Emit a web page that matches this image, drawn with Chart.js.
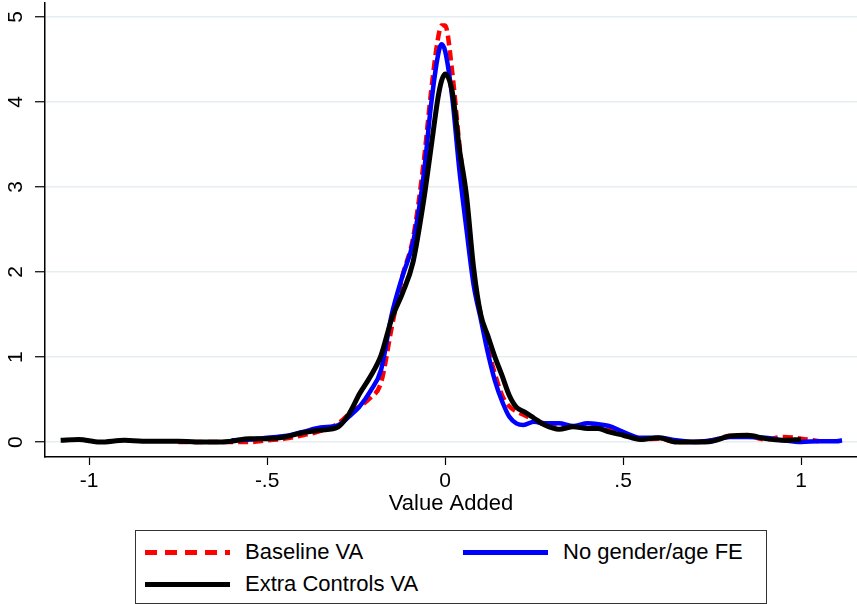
<!DOCTYPE html>
<html>
<head>
<meta charset="utf-8">
<script src="https://cdn.jsdelivr.net/npm/chart.js@4.4.0/dist/chart.umd.min.js"></script>
<style>
  body { margin: 0; background: #fff; font-family: Arial, "Liberation Sans", sans-serif; }
  #wrap { position: relative; width: 857px; height: 604px; }
  #vaChart { position: absolute; left: 0; top: 0; }
  #legend { position: absolute; left: 135px; top: 530px; width: 632px; height: 74px;
            box-sizing: border-box; border: 1px solid #333; }
  .item { position: absolute; height: 26px; font-size: 22px; line-height: 26px; color: #000; white-space: nowrap; }
  .sample { position: absolute; left: 0; top: 10.5px; width: 85px; height: 5px; }
  .item span { position: absolute; left: 100px; top: 0; }
</style>
</head>
<body>
<div id="wrap">
  <canvas id="vaChart" width="857" height="520"></canvas>
  <div id="legend"></div>
</div>
<script>
// kernel density of value added
const vaGrid = [-1.08, -1.03, -0.97, -0.9, -0.85, -0.8, -0.75, -0.7, -0.65, -0.6,
  -0.55, -0.5, -0.45, -0.4, -0.35, -0.3, -0.27, -0.24, -0.21, -0.18,
  -0.15, -0.12, -0.09, -0.06, -0.04, -0.02, -0.01, 0, 0.02, 0.04,
  0.06, 0.08, 0.1, 0.12, 0.14, 0.16, 0.18, 0.2, 0.22, 0.25,
  0.28, 0.32, 0.36, 0.4, 0.43, 0.46, 0.5, 0.55, 0.6, 0.65,
  0.7, 0.75, 0.8, 0.85, 0.9, 0.95, 1.0, 1.05, 1.1, 1.115];

const baselineVA = [null, null, null, null, null, null, 0.0, 0.0, 0.0, 0.0,
  0.0, 0.02, 0.04, 0.08, 0.13, 0.22, 0.33, 0.42, 0.52, 0.7,
  1.35, 1.95, 2.4, 3.3, 4.1, 4.75, 4.9, 4.9, 4.35, 3.5,
  2.8, 1.95, 1.5, 1.1, 0.8, 0.55, 0.42, 0.36, 0.32, 0.26,
  0.2, 0.17, 0.18, 0.17, 0.18, 0.15, 0.1, 0.03, 0.04, 0.0,
  0.0, 0.02, 0.07, 0.07, 0.03, 0.06, 0.04, 0.01, null, null];

const noGenderAgeFE = [null, null, null, null, null, null, null, null, null, 0.02,
  0.03, 0.05, 0.07, 0.12, 0.17, 0.2, 0.3, 0.42, 0.6, 0.85,
  1.5, 1.95, 2.35, 3.15, 3.95, 4.55, 4.68, 4.6, 4.05, 3.2,
  2.5, 1.85, 1.45, 1.05, 0.72, 0.48, 0.3, 0.22, 0.2, 0.24,
  0.22, 0.22, 0.19, 0.22, 0.21, 0.19, 0.12, 0.05, 0.05, 0.02,
  0.0, 0.02, 0.06, 0.06, 0.05, 0.02, 0.0, 0.01, 0.01, 0.02];

const extraControlsVA = [0.02, 0.03, 0.0, 0.02, 0.01, 0.01, 0.01, 0.0, 0.0, 0.01,
  0.04, 0.04, 0.06, 0.11, 0.14, 0.18, 0.33, 0.57, 0.77, 1.02,
  1.45, 1.75, 2.12, 2.85, 3.45, 4.05, 4.25, 4.33, 4.12, 3.45,
  2.9, 2.05, 1.5, 1.25, 1.0, 0.78, 0.55, 0.41, 0.36, 0.28,
  0.2, 0.15, 0.18, 0.16, 0.16, 0.12, 0.08, 0.03, 0.05, 0.0,
  0.0, 0.01, 0.07, 0.08, 0.04, 0.02, 0.03, null, null, null];

const xTicks = [-1, -0.5, 0, 0.5, 1];
const yTicks = [0, 1, 2, 3, 4, 5];

const FONT = 'Arial, "Liberation Sans", sans-serif';
const toPoints = ys => vaGrid.map((x, i) => ({ x: x, y: ys[i] }));
const fmt = v => String(v).replace(/^(-?)0\./, '$1.');

// y labels are vertical in the original
const rotatedYLabels = {
    id: 'rotatedYLabels',
    afterDraw(chart) {
        const ctx = chart.ctx;
        const ys = chart.scales.y;
        ctx.save();
        ctx.font = '21px ' + FONT;
        ctx.fillStyle = '#000';
        ctx.textAlign = 'center';
        ctx.textBaseline = 'middle';
        yTicks.forEach(v => {
            ctx.save();
            ctx.translate(16, ys.getPixelForValue(v));
            ctx.rotate(-Math.PI / 2);
            ctx.fillText(fmt(v), 0, 0);
            ctx.restore();
        });
        ctx.restore();
    }
};

const series = [
    { label: 'Baseline VA', data: toPoints(baselineVA), borderColor: '#ff0000', borderDash: [10, 5], borderWidth: 4.5, order: 3 },
    { label: 'No gender/age FE', data: toPoints(noGenderAgeFE), borderColor: '#0000ff', borderWidth: 4.5, order: 2 },
    { label: 'Extra Controls VA', data: toPoints(extraControlsVA), borderColor: '#000000', borderWidth: 5, order: 1 }
];

const vaCtx = document.getElementById('vaChart').getContext('2d');
new Chart(vaCtx, {
    type: 'line',
    data: {
        datasets: series.map(s => Object.assign({
            pointRadius: 0,
            fill: false,
            cubicInterpolationMode: 'monotone',
            spanGaps: false
        }, s))
    },
    options: {
        responsive: false,
        animation: false,
        layout: { padding: { top: 3, right: 0, left: 0, bottom: 0 } },
        plugins: { legend: { display: false }, tooltip: { enabled: false } },
        scales: {
            x: {
                type: 'linear',
                min: -1.124,
                max: 1.157,
                afterBuildTicks: s => { s.ticks = xTicks.map(v => ({ value: v })); },
                afterFit: s => { s.height = 63; },
                ticks: {
                    callback: v => fmt(v),
                    color: '#000',
                    font: { size: 21, family: FONT },
                    padding: 4,
                    maxRotation: 0
                },
                grid: { drawOnChartArea: false, drawTicks: true, tickLength: 8, tickColor: '#000', tickWidth: 1.2 },
                border: { color: '#000', width: 1.5 },
                title: {
                    display: true,
                    text: 'Value Added',
                    color: '#000',
                    font: { size: 22, family: FONT },
                    padding: { top: 0, bottom: 3 }
                }
            },
            y: {
                type: 'linear',
                min: -0.176,
                max: 5.165,
                afterBuildTicks: s => { s.ticks = yTicks.map(v => ({ value: v })); },
                afterFit: s => { s.width = 45; },
                ticks: { display: false },
                grid: { color: '#e6eef1', lineWidth: 1.5, tickLength: 10, tickColor: '#000', tickWidth: 1.2 },
                border: { color: '#000', width: 1.5 }
            }
        }
    },
    plugins: [rotatedYLabels]
});

// legend box below the plot, two columns
const legendBox = document.getElementById('legend');
const colLeft = [9, 327];
const rowTop = [8, 40];
series.forEach((s, i) => {
    const item = document.createElement('div');
    item.className = 'item';
    item.style.left = colLeft[i % 2] + 'px';
    item.style.top = rowTop[Math.floor(i / 2)] + 'px';
    const sample = document.createElement('div');
    sample.className = 'sample';
    sample.style.background = s.borderDash
        ? 'repeating-linear-gradient(to right, ' + s.borderColor + ' 0 12px, transparent 12px 20px)'
        : s.borderColor;
    const text = document.createElement('span');
    text.textContent = s.label;
    item.appendChild(sample);
    item.appendChild(text);
    legendBox.appendChild(item);
});
</script>
</body>
</html>
